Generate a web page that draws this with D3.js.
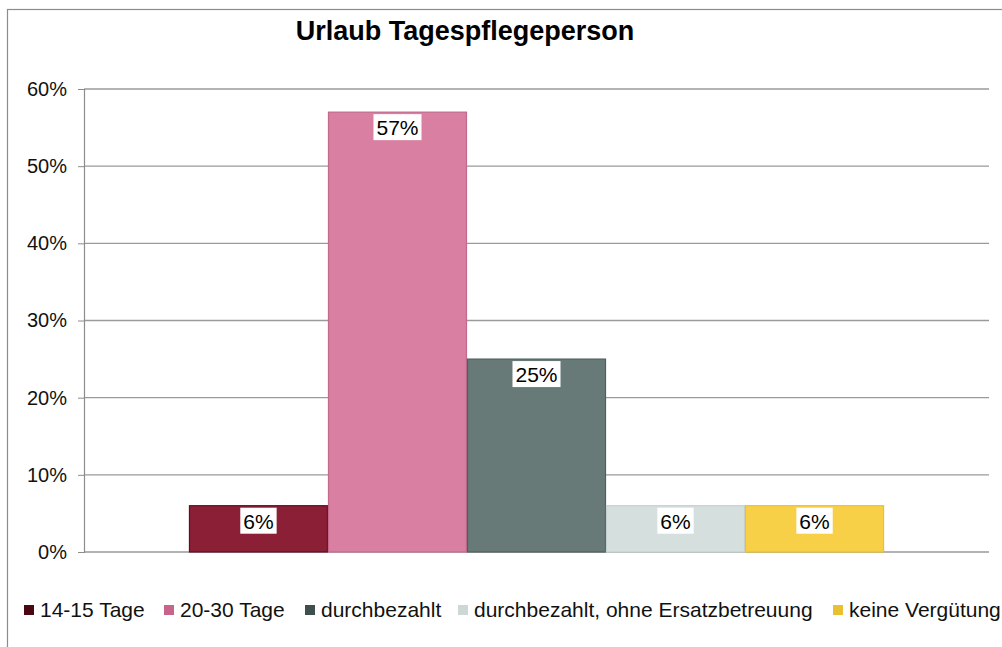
<!DOCTYPE html>
<html>
<head>
<meta charset="utf-8">
<script src="https://cdn.jsdelivr.net/npm/d3@7"></script>
<style>
  body { margin: 0; background: #fff; }
  svg text { font-family: "Liberation Sans", Arial, sans-serif; }
</style>
</head>
<body>
<svg id="chart" width="1002" height="647"></svg>
<script>
// data
const title = 'Urlaub Tagespflegeperson';
const categories = [''];
const seriesNames = ['14-15 Tage', '20-30 Tage', 'durchbezahlt', 'durchbezahlt, ohne Ersatzbetreuung', 'keine Vergütung'];
const seriesValues = [0.06, 0.57, 0.25, 0.06, 0.06];
const yTicks = [0, 0.1, 0.2, 0.3, 0.4, 0.5, 0.6];
const fills = ['#8a1f36', '#d87fa2', '#687a78', '#d4dfde', '#f8d047'];
const strokes = ['#5e0f22', '#c2698c', '#4f5f5d', '#c5d1d0', '#e9bf36'];
const legendFills = ['#4a0714', '#c8648c', '#3f4f4d', '#cdd8d6', '#e8c030'];

const svg = d3.select('#chart');
const plot = { left: 84, right: 989, top: 89, bottom: 552 };

// outer chart frame (right and bottom edges fall outside the picture)
svg.append('rect')
  .attr('x', 7.5).attr('y', 9.5)
  .attr('width', 1010).attr('height', 660)
  .attr('fill', 'none')
  .attr('stroke', '#8c8c8c')
  .attr('stroke-width', 1.2);

svg.append('text')
  .attr('x', 465).attr('y', 40)
  .attr('text-anchor', 'middle')
  .attr('font-size', 27)
  .attr('font-weight', 'bold')
  .attr('fill', '#000')
  .text(title);

const y = d3.scaleLinear().domain([0, 0.6]).range([plot.bottom, plot.top]);
const x0 = d3.scaleBand().domain(categories).range([plot.left, plot.right]).paddingOuter(0.151);
const x1 = d3.scaleBand().domain(seriesNames).range([0, x0.bandwidth()]);

// gridlines
svg.append('g')
  .selectAll('line')
  .data(yTicks)
  .join('line')
  .attr('x1', plot.left).attr('x2', plot.right)
  .attr('y1', d => y(d)).attr('y2', d => y(d))
  .attr('stroke', '#9a9a9a')
  .attr('stroke-width', 1.3);

// y axis
const yAxis = svg.append('g')
  .attr('transform', `translate(${plot.left},0)`)
  .call(d3.axisLeft(y).tickValues(yTicks).tickFormat(d3.format('.0%')).tickSize(6).tickPadding(11));
yAxis.select('.domain').attr('stroke', '#8c8c8c').attr('stroke-width', 1.2);
yAxis.selectAll('.tick line').attr('stroke', '#8c8c8c');
yAxis.selectAll('.tick text')
  .attr('font-size', 20)
  .attr('fill', '#111')
  .attr('font-family', '"Liberation Sans", Arial, sans-serif');

// bars
const bars = svg.append('g')
  .selectAll('g')
  .data(seriesNames.map((name, i) => ({ name, value: seriesValues[i], i })))
  .join('g')
  .attr('transform', d => `translate(${x0('') + x1(d.name)},0)`);

bars.append('rect')
  .attr('x', 0.5)
  .attr('y', d => y(d.value))
  .attr('width', x1.bandwidth() - 1)
  .attr('height', d => y(0) - y(d.value))
  .attr('fill', d => fills[d.i])
  .attr('stroke', d => strokes[d.i])
  .attr('stroke-width', 1.2);

// value labels in white boxes
const labels = bars.append('g')
  .attr('transform', d => `translate(${x1.bandwidth() / 2},${y(d.value) + 2})`);
labels.append('text')
  .attr('y', 21)
  .attr('text-anchor', 'middle')
  .attr('font-size', 21)
  .attr('fill', '#000')
  .text(d => d3.format('.0%')(d.value))
  .each(function () {
    const b = this.getBBox();
    d3.select(this.parentNode).insert('rect', 'text')
      .attr('x', b.x - 3).attr('y', 0)
      .attr('width', b.width + 6).attr('height', 26)
      .attr('fill', '#fff');
  });

// legend
const legendX = [24, 164, 305, 458, 833];
const legend = svg.append('g')
  .selectAll('g')
  .data(seriesNames)
  .join('g')
  .attr('transform', (d, i) => `translate(${legendX[i]},617)`);
legend.append('rect')
  .attr('x', 0).attr('y', -12)
  .attr('width', 10).attr('height', 10)
  .attr('fill', (d, i) => legendFills[i]);
legend.append('text')
  .attr('x', 16).attr('y', 0)
  .attr('font-size', 21)
  .attr('fill', '#111')
  .text(d => d);
</script>
</body>
</html>
